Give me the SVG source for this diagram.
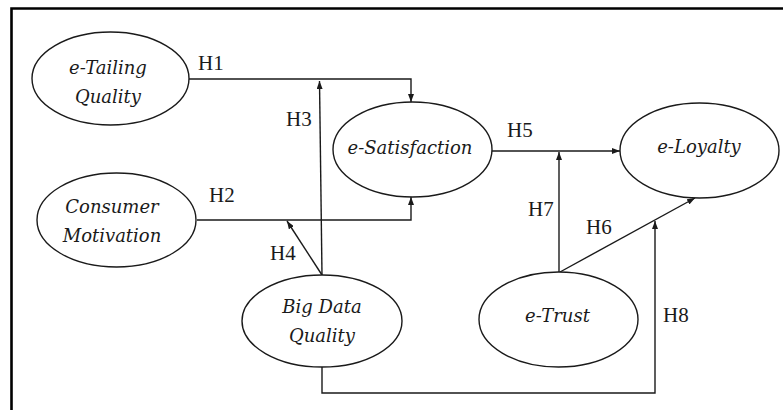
<svg xmlns="http://www.w3.org/2000/svg" width="783" height="410" viewBox="0 0 783 410">
<style>
.node ellipse{fill:#fff;stroke:#1a1a1a;stroke-width:1.4}
.node text{font-family:"DejaVu Serif","Liberation Serif",serif;font-style:italic;font-size:18px;fill:#1a1a1a;text-anchor:middle}
.conn path{fill:none;stroke:#1a1a1a;stroke-width:1.4}
.lbl{font-family:"Liberation Serif",serif;font-size:21px;fill:#1a1a1a}
</style>
<defs>
<marker id="ah" viewBox="0 0 8 6" refX="8" refY="3" markerWidth="8" markerHeight="6" markerUnits="userSpaceOnUse" orient="auto">
<path d="M0,0 L8,3 L0,6 z" fill="#1a1a1a"/>
</marker>
</defs>
<rect width="783" height="410" fill="#fff"/>
<path d="M11.5,410 V8.5 H783" fill="none" stroke="#000" stroke-width="2.6"/>
<g class="conn">
<path d="M189,79 H411 V102" marker-end="url(#ah)"/>
<path d="M322,275 L319.5,81" marker-end="url(#ah)"/>
<path d="M197,220 H411 V197" marker-end="url(#ah)"/>
<path d="M322,275 L287,221" marker-end="url(#ah)"/>
<path d="M492,151 H620" marker-end="url(#ah)"/>
<path d="M559,272 V152" marker-end="url(#ah)"/>
<path d="M560,272 L695,198" marker-end="url(#ah)"/>
<path d="M322,367 V393 H655 V221" marker-end="url(#ah)"/>
</g>
<g id="etailing" class="node">
<ellipse cx="110.5" cy="78.5" rx="78.5" ry="46.5"/>
<text x="108" y="74">e-Tailing</text>
<text x="108" y="103">Quality</text>
</g>
<g id="consumer" class="node">
<ellipse cx="116.5" cy="220" rx="79.5" ry="47"/>
<text x="112" y="213">Consumer</text>
<text x="112" y="242">Motivation</text>
</g>
<g id="esatisfaction" class="node">
<ellipse cx="412.5" cy="149.5" rx="79.5" ry="47.5"/>
<text x="410" y="154">e-Satisfaction</text>
</g>
<g id="eloyalty" class="node">
<ellipse cx="699.5" cy="150.5" rx="79.5" ry="47.5"/>
<text x="699" y="153">e-Loyalty</text>
</g>
<g id="bigdata" class="node">
<ellipse cx="322" cy="321" rx="80" ry="46"/>
<text x="322" y="313">Big Data</text>
<text x="322" y="342">Quality</text>
</g>
<g id="etrust" class="node">
<ellipse cx="558.5" cy="319.5" rx="79.5" ry="47.5"/>
<text x="557.5" y="322">e-Trust</text>
</g>
<g id="labels">
<text class="lbl" x="198" y="70">H1</text>
<text class="lbl" x="286" y="126">H3</text>
<text class="lbl" x="209" y="202">H2</text>
<text class="lbl" x="270" y="260">H4</text>
<text class="lbl" x="507" y="137">H5</text>
<text class="lbl" x="528" y="216">H7</text>
<text class="lbl" x="586" y="234">H6</text>
<text class="lbl" x="663" y="322">H8</text>
</g>
</svg>
